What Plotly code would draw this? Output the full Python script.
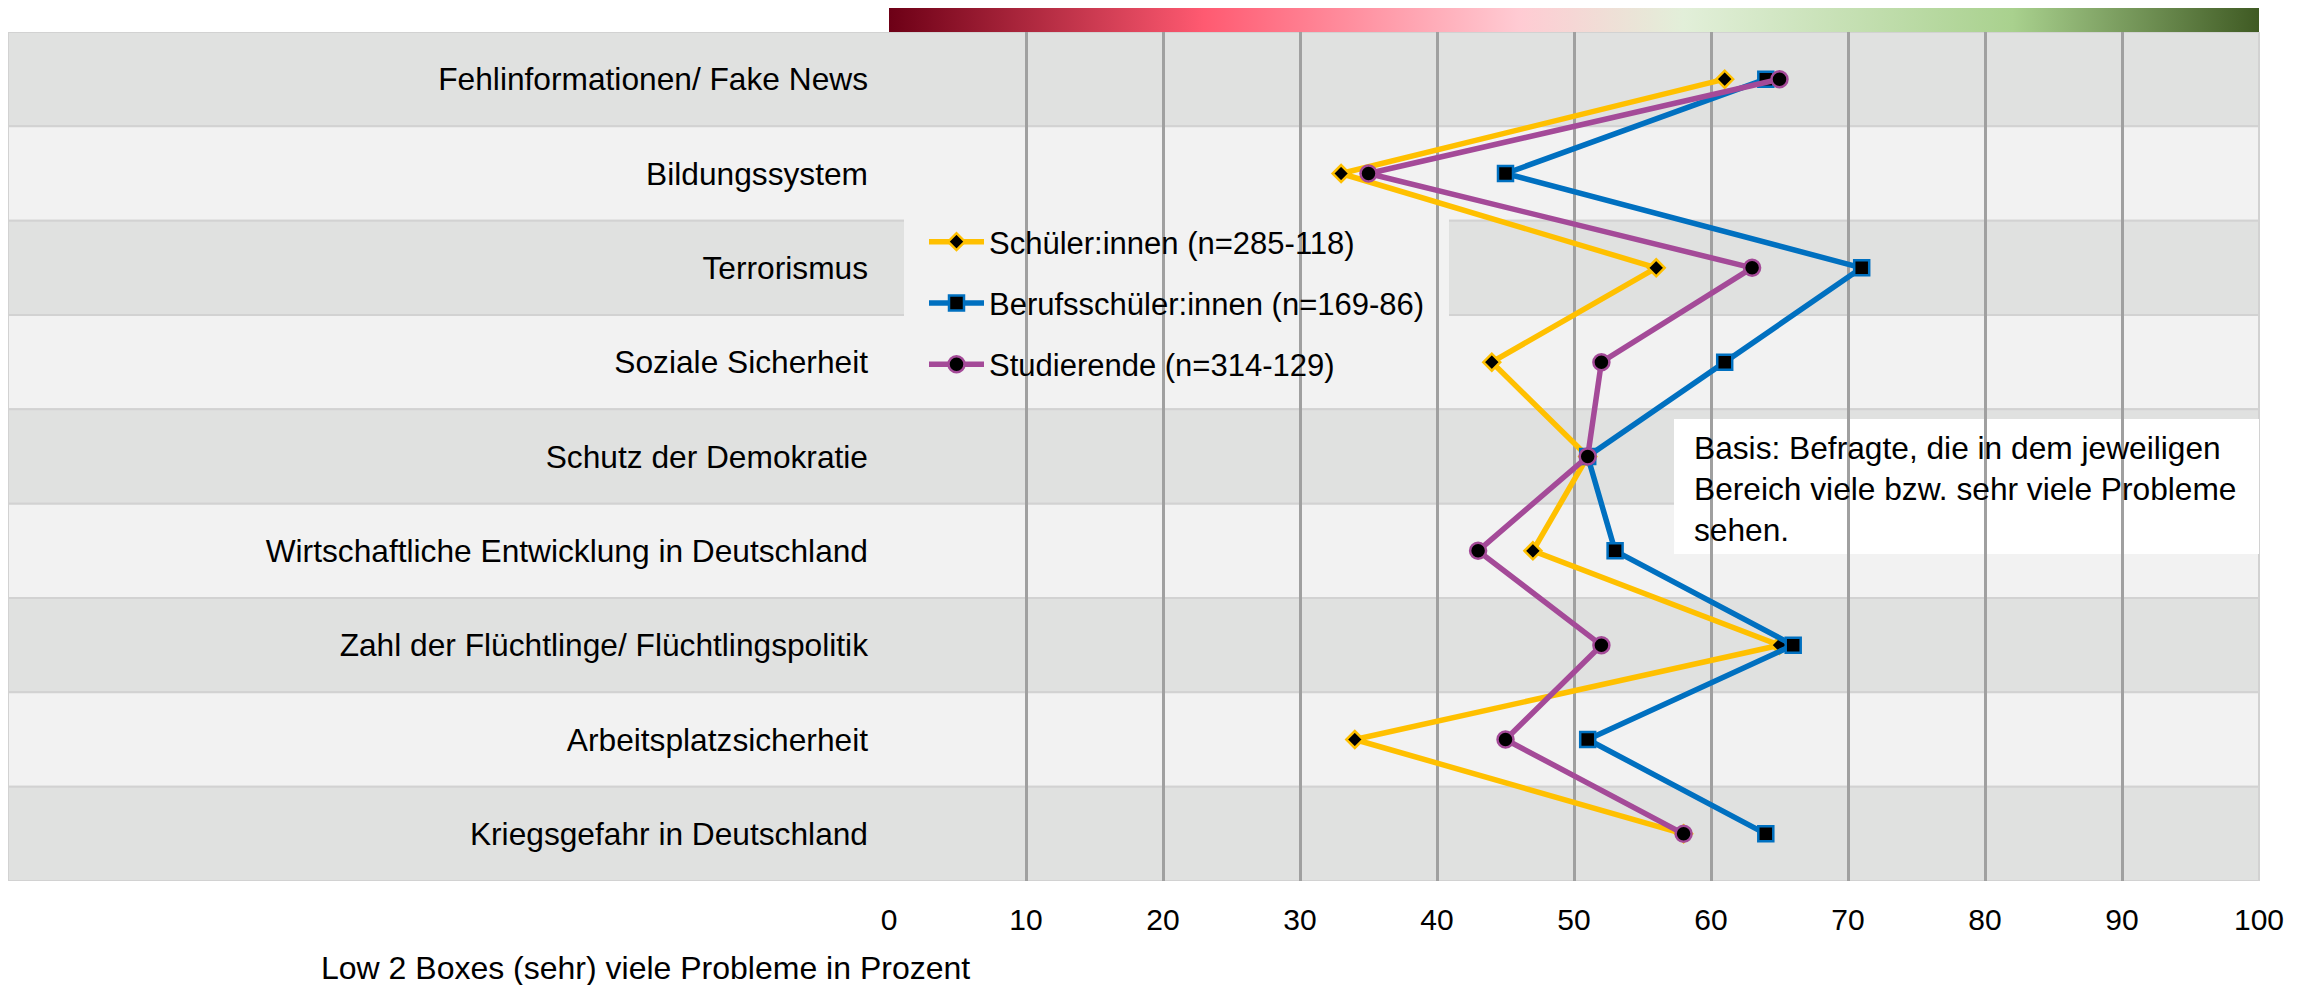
import plotly.graph_objects as go

categories = [
    "Fehlinformationen/ Fake News",
    "Bildungssystem",
    "Terrorismus",
    "Soziale Sicherheit",
    "Schutz der Demokratie",
    "Wirtschaftliche Entwicklung in Deutschland",
    "Zahl der Flüchtlinge/ Flüchtlingspolitik",
    "Arbeitsplatzsicherheit",
    "Kriegsgefahr in Deutschland",
]
schueler = [61, 33, 56, 44, 51, 47, 65, 34, 58]
berufsschueler = [64, 45, 71, 61, 51, 53, 66, 51, 64]
studierende = [65, 35, 63, 52, 51, 43, 52, 45, 58]

series_names = [
    "Schüler:innen (n=285-118)",
    "Berufsschüler:innen (n=169-86)",
    "Studierende (n=314-129)",
]
x_ticks = [0, 10, 20, 30, 40, 50, 60, 70, 80, 90, 100]
x_title = "Low 2 Boxes (sehr) viele Probleme in Prozent"
note = "Basis: Befragte, die in dem jeweiligen<br>Bereich viele bzw. sehr viele Probleme<br>sehen."

FONT = "Liberation Sans, Arial, sans-serif"
OFF = 8  # page body margin
W, H = 2310 - OFF, 985 - OFF
L, R, T, B = 889 - OFF, 51, 32 - OFF, 104
PW, PH = W - L - R, H - T - B

def px_x(p):  # page pixel -> paper
    return (p - OFF - L) / PW

def px_y(p):
    return (H - B - (p - OFF)) / PH

fig = go.Figure()

styles = [
    dict(color="#ffc000", symbol="diamond", size=13),
    dict(color="#0070c0", symbol="square", size=15),
    dict(color="#a44a98", symbol="circle", size=16),
]
for name, vals, st in zip(series_names, [schueler, berufsschueler, studierende], styles):
    fig.add_trace(go.Scatter(
        x=vals, y=categories, name=name, mode="lines+markers",
        legendgroup=name,
        line=dict(color=st["color"], width=5.5),
        marker=dict(symbol=st["symbol"], size=st["size"], color="black",
                    line=dict(color=st["color"], width=2.5)),
        cliponaxis=False,
    ))

# gradient bar (colour scale decoration)
fig.add_trace(go.Scatter(
    x=[None], y=[None], mode="markers", showlegend=False, hoverinfo="skip",
    marker=dict(
        color=[0], cmin=0, cmax=100, showscale=True,
        colorscale=[[0, "#6d0016"], [0.23, "#ff5a71"], [0.46, "#ffcbd3"],
                    [0.58, "#e2efd9"], [0.82, "#a9d18e"], [1, "#3f5a23"]],
        colorbar=dict(orientation="h", x=0, xanchor="left", y=1, yanchor="bottom",
                      len=1, lenmode="fraction", thickness=26, xpad=0, ypad=0,
                      outlinewidth=0, showticklabels=False, ticks=""),
    ),
))

shapes = []
for i, _ in enumerate(categories):
    shapes.append(dict(
        type="rect", xref="paper", yref="y", layer="below",
        x0=px_x(8), x1=1, y0=i - 0.5, y1=i + 0.5,
        fillcolor="#e0e1e0" if i % 2 == 0 else "#f2f2f2",
        line=dict(color="#d2d2d2", width=2),
    ))
# note box (gridlines pass over it)
shapes.append(dict(
    type="rect", xref="paper", yref="paper", layer="below",
    x0=px_x(1674), x1=1, y0=px_y(554), y1=px_y(419),
    fillcolor="white", line=dict(width=0),
))
# legend box (covers gridlines)
shapes.append(dict(
    type="rect", xref="paper", yref="paper", layer="between",
    x0=px_x(904), x1=px_x(1449), y0=px_y(391), y1=px_y(215),
    fillcolor="#f2f2f2", line=dict(width=0),
))

fig.update_layout(
    width=W, height=H,
    margin=dict(l=L, r=R, t=T, b=B, autoexpand=False),
    paper_bgcolor="white", plot_bgcolor="white",
    font=dict(family=FONT, size=31, color="black"),
    shapes=shapes,
    showlegend=True,
    legend=dict(
        x=px_x(924), y=px_y(215), xanchor="left", yanchor="top",
        bgcolor="rgba(0,0,0,0)", borderwidth=0,
        traceorder="grouped", tracegroupgap=18,
        font=dict(size=31), itemwidth=55,
    ),
    annotations=[
        dict(text=x_title, xref="paper", yref="paper", x=px_x(645), y=px_y(968),
             xanchor="center", yanchor="middle", showarrow=False,
             font=dict(size=32)),
        dict(text=note, xref="paper", yref="paper", x=px_x(1692), y=px_y(428),
             xanchor="left", yanchor="top", showarrow=False, align="left",
             font=dict(size=31.7)),
    ],
)
fig.update_xaxes(
    range=[0, 100], tickvals=x_ticks, showgrid=True, gridcolor="#a0a0a0", gridwidth=2.5,
    zeroline=False, showline=False, ticks="", tickfont=dict(size=30),
    ticklabelstandoff=18,
)
fig.update_yaxes(
    categoryorder="array", categoryarray=categories, range=[8.5, -0.5],
    showgrid=False, zeroline=False, showline=False, ticks="",
    tickfont=dict(size=31.7), ticklabelstandoff=20,
)

fig.write_html("out.html")
